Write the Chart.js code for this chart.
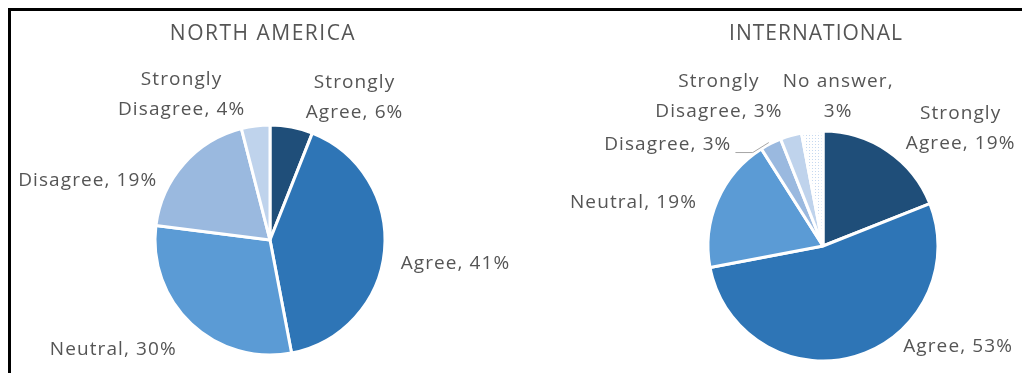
<!DOCTYPE html>
<html>
<head>
<meta charset="utf-8">
<title>Survey responses by region</title>
<script src="https://cdn.jsdelivr.net/npm/chart.js@4/dist/chart.umd.min.js"></script>
<style>
  html, body { margin: 0; padding: 0; background: #fff; overflow: hidden; }
  #frame {
    position: absolute; left: 8px; top: 8px;
    width: 1011px; height: 365px;
    border-top: 3px solid #000; border-left: 3px solid #000;
  }
  .pane { position: absolute; top: 11px; height: 362px; }
  #naPane { left: 11px; width: 509px; }
  #intlPane { left: 520px; width: 511px; }
</style>
</head>
<body>
<div id="frame"></div>
<div class="pane" id="naPane"><canvas id="naChart"></canvas></div>
<div class="pane" id="intlPane"><canvas id="intlChart"></canvas></div>

<script>
/* ===========================
   Agreement survey — two regional pies
   =========================== */

const NA_LABELS = ['Strongly Agree', 'Agree', 'Neutral', 'Disagree', 'Strongly Disagree'];
const NA_VALUES = [6, 41, 30, 19, 4];

const INTL_LABELS = ['Strongly Agree', 'Agree', 'Neutral', 'Disagree', 'Strongly Disagree', 'No answer'];
const INTL_VALUES = [19, 53, 19, 3, 3, 3];

const SLICE_COLORS = ['#1F4E79', '#2E75B6', '#5B9BD5', '#9AB9DF', '#BFD3EC'];
const TEXT_COLOR = '#555555';
const FONT_FAMILY = "'Open Sans', sans-serif";

// label nudges from each slice's outer mid-point, in px
const NA_LABEL_OFFSETS = [[63, -29], [71, 13], [-78, 26], [-96, 17], [-74, -31]];
const INTL_LABEL_OFFSETS = [[73, -22], [103, -10], [-84, 2], [-103, 1], [-72, -39], [26, -35]];

function labelLines(category, value) {
  if (category.startsWith('Strongly ')) {
    return ['Strongly', category.slice(9) + ', ' + value + '%'];
  }
  if (category === 'No answer') return [category + ',', value + '%'];
  return [category + ', ' + value + '%'];
}

function dotPattern() {
  const c = document.createElement('canvas');
  c.width = 3; c.height = 3;
  const g = c.getContext('2d');
  g.fillStyle = '#fff';
  g.fillRect(0, 0, 3, 3);
  g.fillStyle = '#C6D9F0';
  g.fillRect(1, 1, 1, 1);
  return g.createPattern(c, 'repeat');
}

// draws the heading plus an Excel-style label next to every slice
const sliceLabels = {
  id: 'sliceLabels',
  afterDatasetsDraw(chart, args, opts) {
    const { ctx, chartArea } = chart;
    const meta = chart.getDatasetMeta(0);
    const values = chart.data.datasets[0].data;

    ctx.save();
    ctx.fillStyle = TEXT_COLOR;
    ctx.textAlign = 'center';
    ctx.textBaseline = 'middle';

    ctx.font = `21px ${FONT_FAMILY}`;
    ctx.letterSpacing = opts.titleSpacing;
    ctx.fillText(opts.title, (chartArea.left + chartArea.right) / 2 + opts.titleShift, opts.titleY);

    ctx.font = `19px ${FONT_FAMILY}`;
    ctx.letterSpacing = '1.1px';
    meta.data.forEach((arc, i) => {
      const { x, y, startAngle, endAngle, outerRadius } =
        arc.getProps(['x', 'y', 'startAngle', 'endAngle', 'outerRadius'], true);
      const mid = (startAngle + endAngle) / 2;
      const ex = x + Math.cos(mid) * outerRadius;
      const ey = y + Math.sin(mid) * outerRadius;
      const [dx, dy] = opts.offsets[i];
      const cx = ex + dx;
      const cy = ey + dy;
      const lines = labelLines(chart.data.labels[i], values[i]);
      const top = cy - (lines.length - 1) * opts.lineHeight / 2;
      lines.forEach((t, k) => ctx.fillText(t, cx, top + k * opts.lineHeight));

      if (opts.leaders && opts.leaders[i]) {
        const w = Math.max(...lines.map(t => ctx.measureText(t).width));
        ctx.beginPath();
        ctx.strokeStyle = '#A6A6A6';
        ctx.lineWidth = 1;
        ctx.moveTo(ex - 2, ey - 1);
        ctx.lineTo(ex - 18, ey + 9);
        ctx.lineTo(cx + w / 2 + 4, ey + 9);
        ctx.stroke();
      }
    });
    ctx.restore();
  }
};

function renderPie(canvasId, labels, values, colors, padding, labelOpts) {
  const ctx = document.getElementById(canvasId).getContext('2d');
  return new Chart(ctx, {
    type: 'pie',
    data: {
      labels,
      datasets: [{
        data: values,
        backgroundColor: colors,
        borderColor: '#fff',
        borderWidth: 3,
        hoverOffset: 0,
      }]
    },
    options: {
      responsive: true,
      maintainAspectRatio: false,
      animation: false,
      radius: 115,
      layout: { padding },
      events: [],
      plugins: {
        legend: { display: false },
        tooltip: { enabled: false },
        title: { display: false },
        sliceLabels: labelOpts,
      }
    },
    plugins: [sliceLabels]
  });
}

renderPie('naChart', NA_LABELS, NA_VALUES, SLICE_COLORS,
  { left: 9, right: 0, top: 110, bottom: 14 },
  { title: 'NORTH AMERICA', titleY: 23, titleShift: -7, titleSpacing: '1.5px',
    offsets: NA_LABEL_OFFSETS, lineHeight: 30 });

renderPie('intlChart', INTL_LABELS, INTL_VALUES, [...SLICE_COLORS, dotPattern()],
  { left: 95, right: 0, top: 120, bottom: 12 },
  { title: 'INTERNATIONAL', titleY: 23, titleShift: -7, titleSpacing: '1px',
    offsets: INTL_LABEL_OFFSETS, lineHeight: 30,
    leaders: [false, false, false, true, false, false] });
</script>
</body>
</html>
